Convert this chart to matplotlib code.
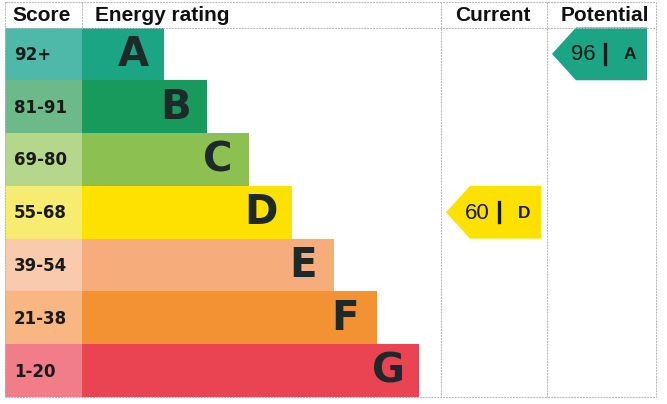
import matplotlib.pyplot as plt
from matplotlib.patches import Rectangle, Polygon

plt.rcParams["font.family"] = ["Liberation Sans", "DejaVu Sans"]

bands = ["A", "B", "C", "D", "E", "F", "G"]
score_ranges = ["92+", "81-91", "69-80", "55-68", "39-54", "21-38", "1-20"]
band_lows = [92, 81, 69, 55, 39, 21, 1]
bar_colors = ["#1ba585", "#179a5c", "#8cc152", "#ffe100", "#f6ad7b", "#f29232", "#ea4452"]
score_colors = ["#4fb9a9", "#6cb98a", "#b4d78b", "#f8ec70", "#f9cbac", "#f7b682", "#f07d88"]
current_score = 60
potential_score = 96

# layout in pixel units
left, score_right, top, header_bottom, bottom = 5, 82, 2, 27.5, 397
col_cur, col_pot, right = 441, 547, 656
row_h = (bottom - header_bottom) / len(bands)


def band_of(score):
    for i, low in enumerate(band_lows):
        if score >= low:
            return i
    return len(bands) - 1


fig = plt.figure(figsize=(6.67, 4.04), dpi=100)
ax = fig.add_axes([0, 0, 1, 1])
ax.set_xlim(0, 667)
ax.set_ylim(404, 0)
ax.axis("off")

# grid lines
line_kw = dict(color="#b5b5b5", lw=0.7, ls=(0, (2, 1)))
ax.plot([left, right], [top, top], **line_kw)
ax.plot([left, right], [header_bottom, header_bottom], **line_kw)
ax.plot([left, right], [bottom, bottom], **line_kw)
for x in [left, col_cur, col_pot, right]:
    ax.plot([x, x], [top, bottom], **line_kw)
ax.plot([score_right, score_right], [top, header_bottom], **line_kw)

# header
hdr = dict(fontsize=15, fontweight="bold", va="center", color="#111111")
ax.text(12, 15.5, "Score", ha="left", **hdr)
ax.text(95, 15.5, "Energy rating", ha="left", **hdr)
ax.text(493, 15.5, "Current", ha="center", **hdr)
ax.text(605, 15.5, "Potential", ha="center", **hdr)

# bands
for i, (band, rng) in enumerate(zip(bands, score_ranges)):
    y0 = header_bottom + i * row_h
    bar_end = 164 + 42.5 * i
    ax.add_patch(Rectangle((left, y0), score_right - left, row_h, color=score_colors[i], lw=0))
    ax.add_patch(Rectangle((score_right, y0), bar_end - score_right, row_h, color=bar_colors[i], lw=0))
    ax.text(14, y0 + row_h / 2 + 1, rng, ha="left", va="center", fontsize=12,
            fontweight="bold", color="#1a1a1a", family="DejaVu Sans")
    ax.text(bar_end - 31, y0 + row_h / 2 + 1, band, ha="center", va="center", fontsize=29,
            fontweight="bold", color="#1e2a2a", family="DejaVu Sans")


def arrow(x0, x1, score):
    i = band_of(score)
    y0 = header_bottom + i * row_h
    y1 = y0 + row_h
    ym = (y0 + y1) / 2
    tip = 24
    ax.add_patch(Polygon([(x0, ym), (x0 + tip, y0), (x1, y0), (x1, y1), (x0 + tip, y1)],
                         closed=True, color=bar_colors[i], lw=0))
    ax.text(x0 + 31, ym + 1, str(score), ha="center", va="center", fontsize=16, color="#1a1a1a")
    ax.plot([x0 + 53, x0 + 53], [ym - 10, ym + 10], color="#1a1a1a", lw=2.4)
    ax.text(x0 + 78, ym + 1, bands[i], ha="center", va="center", fontsize=12.5,
            fontweight="bold", color="#1a1a1a")


arrow(446, 541, current_score)
arrow(552, 647, potential_score)

fig.savefig("out.png", dpi=100)
